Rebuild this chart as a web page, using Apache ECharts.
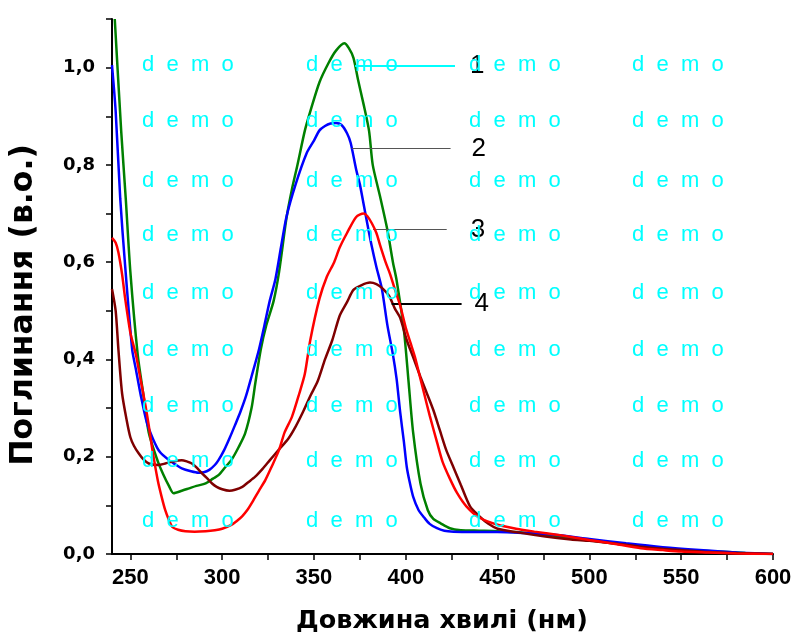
<!DOCTYPE html>
<html>
<head>
<meta charset="utf-8">
<title>Поглинання</title>
<script src="https://cdn.jsdelivr.net/npm/echarts@6/dist/echarts.min.js"></script>
<style>
  html, body { margin: 0; padding: 0; background: #fff; }
  #chart { width: 795px; height: 637px; }
</style>
</head>
<body>
<div id="chart"></div>
<script>
// axis ticks / labels
var xTicks = [250, 275, 300, 325, 350, 375, 400, 425, 450, 475, 500, 525, 550, 575, 600];
var xLabels = [250, 300, 350, 400, 450, 500, 550, 600];
var yTicks = [0, 0.1, 0.2, 0.3, 0.4, 0.5, 0.6, 0.7, 0.8, 0.9, 1.0, 1.1];
var yLabels = [0, 0.2, 0.4, 0.6, 0.8, 1.0];

// curve 1 (green)
var wl1 = [241.5, 245, 247.5, 250, 254, 257, 260, 265, 268, 271, 273.5, 278, 282, 286, 291, 295, 298, 302, 305, 309, 312.5, 316, 318, 321, 324, 328, 331, 335, 338, 341, 345, 348, 353, 358, 362, 366.5, 369, 371.5, 374, 377, 380, 382, 386, 390, 393, 395, 399, 401.5, 404, 408, 412, 415, 419, 424, 430, 440, 450, 460, 475, 490, 500, 515, 530, 550, 570, 585, 600];
var abs1 = [1.10, 0.87, 0.73, 0.58, 0.41, 0.33, 0.25, 0.19, 0.163, 0.14, 0.125, 0.13, 0.135, 0.14, 0.145, 0.155, 0.162, 0.18, 0.193, 0.22, 0.248, 0.30, 0.35, 0.42, 0.47, 0.52, 0.58, 0.69, 0.75, 0.80, 0.87, 0.91, 0.97, 1.01, 1.035, 1.05, 1.04, 1.02, 0.975, 0.925, 0.87, 0.80, 0.735, 0.666, 0.60, 0.563, 0.46, 0.355, 0.25, 0.145, 0.09, 0.072, 0.063, 0.053, 0.049, 0.048, 0.047, 0.045, 0.040, 0.033, 0.028, 0.021, 0.015, 0.009, 0.005, 0.002, 0.0];

// curve 2 (blue)
var wl2 = [240, 242, 244.5, 247, 251, 253, 256, 259, 262.5, 266, 271, 275, 278, 283, 287, 290, 293, 296, 298, 301, 304, 307, 310, 313, 316, 320, 323, 326, 329, 332, 335, 340, 346, 350, 353, 356, 359, 362, 365, 368, 370, 373, 375, 377, 379, 381.5, 384, 387, 390, 393, 395, 397, 399, 400.5, 402, 404, 407, 410, 413, 417, 421, 426, 435, 450, 465, 480, 500, 520, 540, 560, 580, 600];
var abs2 = [1.005, 0.91, 0.73, 0.60, 0.42, 0.38, 0.32, 0.27, 0.235, 0.21, 0.193, 0.183, 0.176, 0.17, 0.167, 0.168, 0.173, 0.183, 0.193, 0.213, 0.238, 0.265, 0.293, 0.325, 0.365, 0.42, 0.47, 0.522, 0.565, 0.63, 0.693, 0.76, 0.824, 0.85, 0.871, 0.88, 0.885, 0.886, 0.882, 0.865, 0.845, 0.79, 0.76, 0.72, 0.68, 0.632, 0.59, 0.545, 0.47, 0.41, 0.36, 0.29, 0.23, 0.18, 0.15, 0.118, 0.09, 0.075, 0.062, 0.053, 0.048, 0.046, 0.045, 0.045, 0.043, 0.04, 0.031, 0.022, 0.014, 0.008, 0.003, 0.0];

// curve 3 (red)
var wl3 = [240, 242, 243.5, 245.5, 247, 250, 253, 255.5, 258, 260, 262, 265, 267, 269, 271, 273, 276, 280, 285, 291, 296, 300, 305, 308, 311, 314, 316, 320, 323.5, 327, 331, 334, 338, 342, 345, 348, 353, 357, 361, 364, 368, 373, 377, 379, 381.5, 384, 386, 389, 391.5, 394, 397, 400, 402.5, 405, 408, 410, 413, 417, 420, 424, 428, 433, 440, 450, 460, 470, 485, 500, 515, 528, 540, 550, 565, 580, 600];
var abs3 = [0.65, 0.64, 0.62, 0.575, 0.53, 0.455, 0.41, 0.36, 0.31, 0.265, 0.214, 0.15, 0.118, 0.09, 0.07, 0.055, 0.05, 0.047, 0.046, 0.047, 0.049, 0.052, 0.06, 0.068, 0.078, 0.092, 0.104, 0.13, 0.152, 0.18, 0.214, 0.25, 0.282, 0.33, 0.37, 0.44, 0.525, 0.57, 0.60, 0.63, 0.66, 0.693, 0.70, 0.695, 0.68, 0.66, 0.635, 0.60, 0.575, 0.545, 0.51, 0.465, 0.435, 0.405, 0.36, 0.33, 0.285, 0.23, 0.19, 0.155, 0.125, 0.098, 0.075, 0.06, 0.052, 0.046, 0.038, 0.029, 0.02, 0.012, 0.008, 0.005, 0.003, 0.001, 0.0];

// curve 4 (brown)
var wl4 = [240, 242, 243.5, 245.5, 248, 250, 252, 254.5, 257, 260, 265, 269, 273, 278, 281, 283.5, 286, 289, 292, 294.5, 297, 300, 304, 307, 311, 314, 318, 322, 326, 331, 336, 340, 344, 348, 352, 356, 360, 364, 368, 371.5, 376, 380.5, 384, 387, 391, 394, 397, 400.5, 404, 408, 411, 415, 418.5, 422, 426, 430, 435, 440, 445, 450, 460, 476, 490, 500, 515, 528, 540, 550, 565, 580, 600];
var abs4 = [0.545, 0.50, 0.42, 0.33, 0.275, 0.24, 0.222, 0.207, 0.195, 0.186, 0.183, 0.186, 0.19, 0.193, 0.19, 0.186, 0.178, 0.166, 0.155, 0.145, 0.138, 0.133, 0.13, 0.132, 0.138, 0.147, 0.159, 0.175, 0.193, 0.215, 0.237, 0.262, 0.292, 0.325, 0.355, 0.40, 0.44, 0.49, 0.518, 0.543, 0.553, 0.558, 0.555, 0.547, 0.53, 0.505, 0.485, 0.44, 0.405, 0.364, 0.335, 0.296, 0.255, 0.214, 0.178, 0.142, 0.098, 0.078, 0.062, 0.052, 0.045, 0.036, 0.03, 0.027, 0.021, 0.015, 0.011, 0.008, 0.004, 0.002, 0.0];

// curve numbers with their leader lines: [from nm, to nm, absorbance]
var tagNames = ['1', '2', '3', '4'];
var tagLines = [[372.4, 426.8, 1.003], [370.6, 424.4, 0.834], [382.2, 422.3, 0.667], [392.3, 430.4, 0.515]];

var font = '"Liberation Sans", Arial, sans-serif';
var wide = '"DejaVu Sans", sans-serif';

function pairs(xs, ys) {
  return xs.map(function (x, i) { return [x, ys[i]]; });
}

function comma(v) {
  return v.toFixed(1).replace('.', ',');
}

function tag(i, color, width, dist) {
  var t = tagLines[i];
  return {
    symbol: 'none',
    silent: true,
    animation: false,
    lineStyle: { color: color, width: width, type: 'solid' },
    label: {
      show: true, position: 'end', distance: dist,
      formatter: tagNames[i], color: '#000', fontSize: 26, fontFamily: font
    },
    data: [[{ coord: [t[0], t[2]] }, { coord: [t[1], t[2]] }]]
  };
}

function curve(name, xs, ys, color, mark, z) {
  return {
    name: name,
    type: 'line',
    data: pairs(xs, ys),
    showSymbol: false,
    smooth: 0.25,
    z: z,
    lineStyle: { color: color, width: 2.5 },
    itemStyle: { color: color },
    markLine: mark
  };
}

// "demo" watermark grid
var wmCols = [142, 306, 469, 632];
var wmRows = [67, 123, 183, 237, 295, 352, 408, 463, 523];
var graphics = [];
wmRows.forEach(function (ry) {
  wmCols.forEach(function (cx) {
    graphics.push({
      type: 'text', left: cx, top: ry - 13, z: 100, silent: true,
      style: { text: 'd  e  m  o', fill: '#00ffff', font: '22px ' + font }
    });
  });
});
graphics.push({
  type: 'text', x: 442, y: 621, silent: true,
  style: { text: 'Довжина хвилі (нм)', fill: '#000', font: 'bold 25.5px ' + wide, align: 'center', verticalAlign: 'middle' }
});
graphics.push({
  type: 'text', x: 24, y: 305, rotation: Math.PI / 2, silent: true,
  style: { text: 'Поглинання (в.о.)', fill: '#000', font: 'bold 31.5px ' + wide, align: 'center', verticalAlign: 'middle' }
});

var chart = echarts.init(document.getElementById('chart'));
chart.setOption({
  animation: false,
  backgroundColor: '#fff',
  grid: { left: 112, right: 22, top: 19, bottom: 83 },
  xAxis: {
    type: 'value', min: 240, max: 600,
    axisLine: { onZero: false, lineStyle: { color: '#000', width: 2 } },
    axisTick: { show: true, length: 6, customValues: xTicks, lineStyle: { color: '#000', width: 1.5 } },
    axisLabel: {
      customValues: xLabels, margin: 13, color: '#000', fontSize: 22,
      fontWeight: 'bold', fontFamily: font
    },
    splitLine: { show: false }
  },
  yAxis: {
    type: 'value', min: 0, max: 1.1,
    axisLine: { show: true, lineStyle: { color: '#000', width: 2 } },
    axisTick: { show: true, length: 6, customValues: yTicks, lineStyle: { color: '#000', width: 1.5 } },
    axisLabel: {
      customValues: yLabels, margin: 17, color: '#000', fontSize: 18,
      fontWeight: 'bold', fontFamily: wide,
      formatter: comma
    },
    splitLine: { show: false }
  },
  graphic: graphics,
  series: [
    curve('1', wl1, abs1, '#008000', tag(0, '#00ffff', 2, 15), 2),
    curve('2', wl2, abs2, '#0000ff', tag(1, '#555555', 1, 21), 3),
    curve('4', wl4, abs4, '#7f0000', tag(3, '#000000', 2, 13), 4),
    curve('3', wl3, abs3, '#ff0000', tag(2, '#555555', 1, 24), 5)
  ]
});
</script>
</body>
</html>
